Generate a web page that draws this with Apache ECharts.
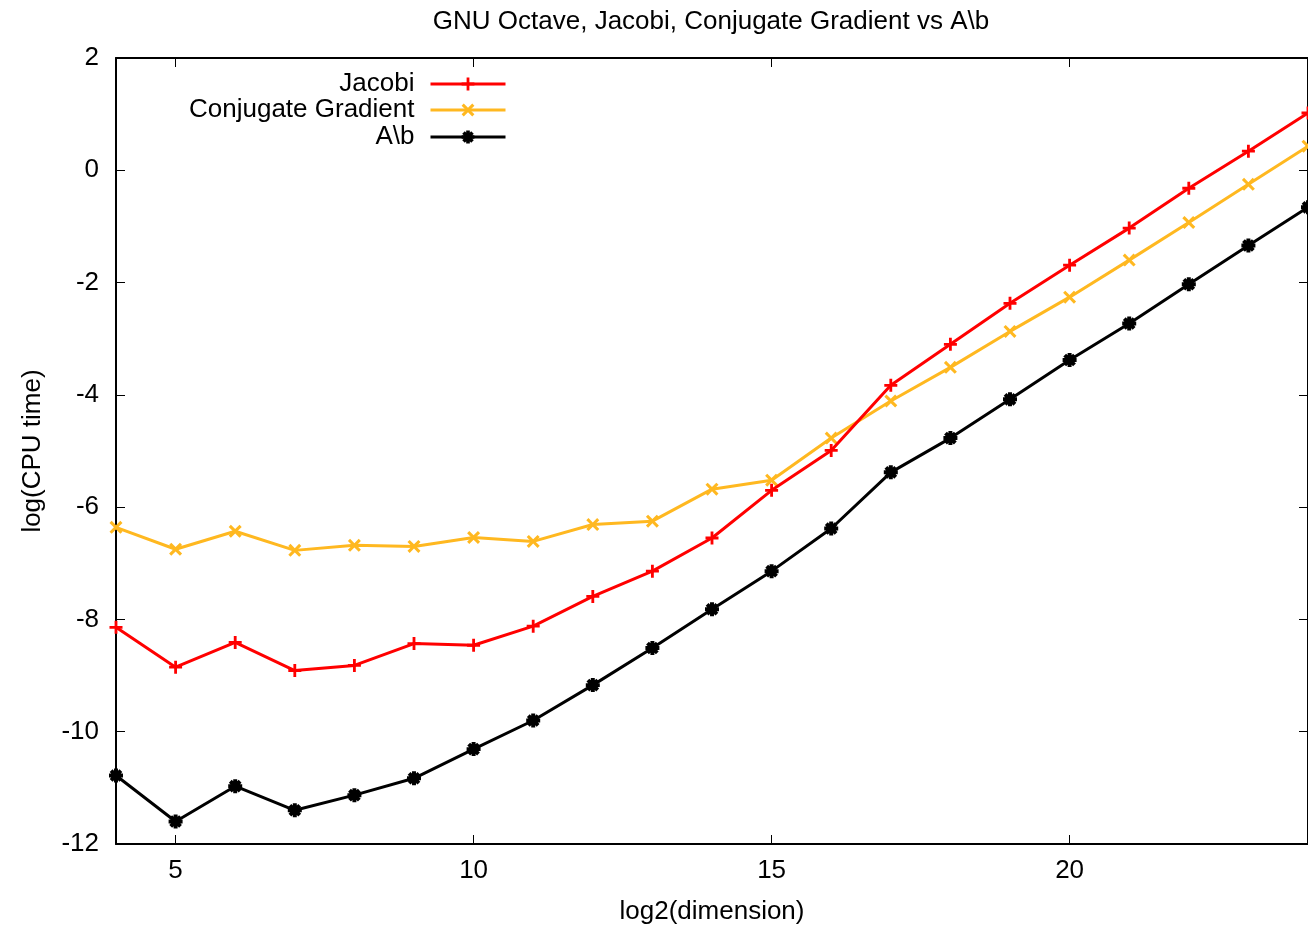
<!DOCTYPE html>
<html>
<head>
<meta charset="utf-8">
<script src="https://cdn.jsdelivr.net/npm/echarts@6/dist/echarts.min.js"></script>
<style>
html,body{margin:0;padding:0;background:#fff;}
#chart{width:1308px;height:931px;}
</style>
</head>
<body>
<div id="chart"></div>
<script>
const titleText = 'GNU Octave, Jacobi, Conjugate Gradient vs A\\b';
const xName = 'log2(dimension)';
const yName = 'log(CPU time)';
const dims = [4,5,6,7,8,9,10,11,12,13,14,15,16,17,18,19,20,21,22,23,24];
const xTicks = [5,10,15,20];
const seriesNames = ['Jacobi','Conjugate Gradient','A\\b'];
const jacobi = [-8.14,-8.85,-8.41,-8.91,-8.82,-8.43,-8.46,-8.12,-7.59,-7.14,-6.55,-5.70,-4.99,-3.83,-3.10,-2.37,-1.69,-1.03,-0.32,0.34,1.02];
const cg = [-6.36,-6.75,-6.43,-6.77,-6.68,-6.70,-6.54,-6.61,-6.31,-6.25,-5.68,-5.52,-4.77,-4.11,-3.51,-2.87,-2.26,-1.60,-0.93,-0.25,0.43];
const ab = [-10.78,-11.60,-10.97,-11.40,-11.13,-10.83,-10.31,-9.80,-9.17,-8.51,-7.82,-7.14,-6.38,-5.38,-4.77,-4.08,-3.38,-2.73,-2.03,-1.34,-0.66];

const FONT = 'Liberation Sans, Arial, sans-serif';
const FS = 26;
const colors = ['#ff0000','#ffb820','#000000'];

const plusPath = 'M-1.3,-6H1.3V-1.3H6V1.3H1.3V6H-1.3V1.3H-6V-1.3H-1.3Z';
const crossPath = 'M3.394,-5.091L5.091,-3.394L1.697,0L5.091,3.394L3.394,5.091L0,1.697L-3.394,5.091L-5.091,3.394L-1.697,0L-5.091,-3.394L-3.394,-5.091L0,-1.697Z';
const starPath = 'M-1.7,-6H1.7V-1.7H6V1.7H1.7V6H-1.7V1.7H-6V-1.7H-1.7Z M3.0,-5.4L5.4,-3.0L2.4,0L5.4,3.0L3.0,5.4L0,2.4L-3.0,5.4L-5.4,3.0L-2.4,0L-5.4,-3.0L-3.0,-5.4L0,-2.4Z';
const symbols = ['path://' + plusPath, 'path://' + crossPath, 'path://' + starPath];
const dataSets = [jacobi, cg, ab];

const chart = echarts.init(document.getElementById('chart'), null, {renderer:'canvas'});

const legendTops = [71, 97, 124];
const legends = seriesNames.map((n, i) => ({
  data: [n],
  orient: 'vertical',
  align: 'right',
  right: 801,
  top: legendTops[i],
  padding: 0,
  itemWidth: 75,
  itemHeight: 16,
  selectedMode: false,
  lineStyle: {width: 3},
  textStyle: {fontFamily: FONT, fontSize: FS, color: '#000', padding: [0, 11, 0, 0]}
}));

const series = seriesNames.map((n, i) => ({
  name: n,
  type: 'line',
  data: dims.map((d, k) => [d, dataSets[i][k]]),
  symbol: symbols[i],
  symbolSize: i === 2 ? 14 : 13,
  showSymbol: true,
  clip: false,
  lineStyle: {color: colors[i], width: 3},
  itemStyle: {color: colors[i]},
  emphasis: {disabled: true},
  z: 3 - i + 2,
  animation: false
}));

const axisCommon = {
  axisLine: {show: true, onZero: false, lineStyle: {color: '#000', width: 2}},
  splitLine: {show: false},
};

chart.setOption({
  animation: false,
  backgroundColor: '#fff',
  title: {
    text: titleText,
    left: 706,
    textAlign: 'center',
    top: 4,
    textStyle: {fontFamily: FONT, fontSize: FS, fontWeight: 'normal', color: '#000'}
  },
  legend: legends,
  grid: {left: 116, top: 58, width: 1196, height: 786, containLabel: false},
  xAxis: [
    Object.assign({}, axisCommon, {
      type: 'value', position: 'bottom', min: 4, max: 24,
      name: xName, nameLocation: 'middle', nameGap: 55,
      nameTextStyle: {fontFamily: FONT, fontSize: FS, color: '#000'},
      axisTick: {show: true, inside: true, length: 9, lineStyle: {color: '#000', width: 1}, customValues: xTicks},
      axisLabel: {show: true, margin: 14, fontFamily: FONT, fontSize: FS, color: '#000', customValues: xTicks}
    }),
    Object.assign({}, axisCommon, {
      type: 'value', position: 'top', min: 4, max: 24,
      axisTick: {show: true, inside: true, length: 9, lineStyle: {color: '#000', width: 1}, customValues: xTicks},
      axisLabel: {show: false}
    })
  ],
  yAxis: [
    Object.assign({}, axisCommon, {
      type: 'value', position: 'left', min: -12, max: 2, interval: 2,
      name: yName, nameLocation: 'middle', nameGap: 70, nameRotate: 90,
      nameTextStyle: {fontFamily: FONT, fontSize: FS, color: '#000'},
      axisTick: {show: true, inside: true, length: 9, lineStyle: {color: '#000', width: 1}},
      axisLabel: {show: true, margin: 17, fontFamily: FONT, fontSize: FS, color: '#000'}
    }),
    Object.assign({}, axisCommon, {
      type: 'value', position: 'right', min: -12, max: 2, interval: 2,
      axisTick: {show: true, inside: true, length: 9, lineStyle: {color: '#000', width: 1}},
      axisLabel: {show: false}
    })
  ],
  series: series
});
</script>
</body>
</html>
